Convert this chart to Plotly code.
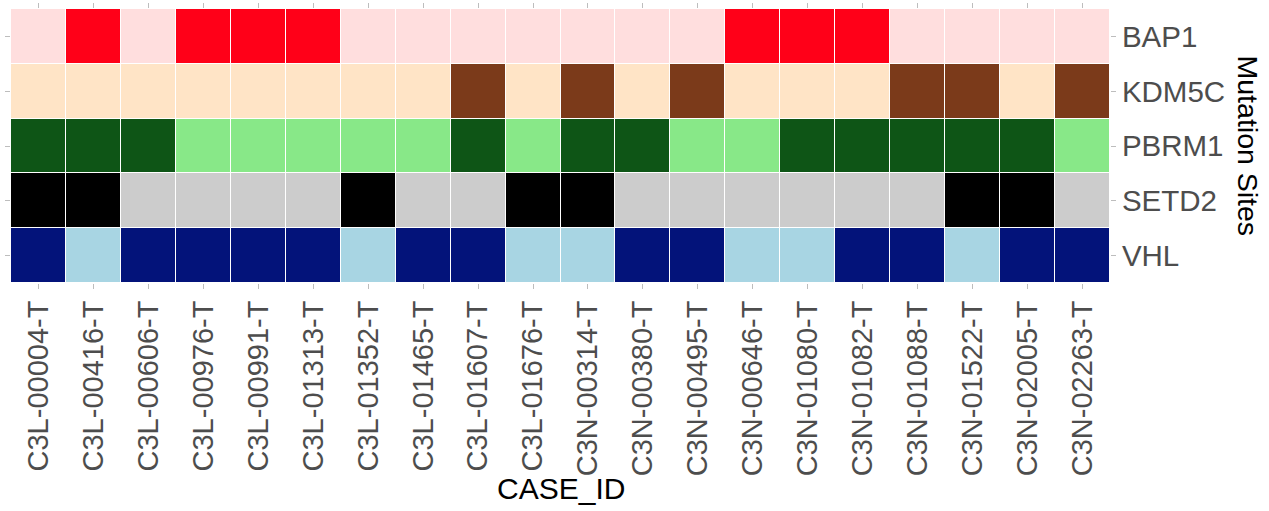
import plotly.graph_objects as go

case_ids = [
    "C3L-00004-T", "C3L-00416-T", "C3L-00606-T", "C3L-00976-T", "C3L-00991-T",
    "C3L-01313-T", "C3L-01352-T", "C3L-01465-T", "C3L-01607-T", "C3L-01676-T",
    "C3N-00314-T", "C3N-00380-T", "C3N-00495-T", "C3N-00646-T", "C3N-01080-T",
    "C3N-01082-T", "C3N-01088-T", "C3N-01522-T", "C3N-02005-T", "C3N-02263-T",
]
genes = ["BAP1", "KDM5C", "PBRM1", "SETD2", "VHL"]

# 1 = mutated, 0 = wild type
bap1 = [0, 1, 0, 1, 1, 1, 0, 0, 0, 0, 0, 0, 0, 1, 1, 1, 0, 0, 0, 0]
kdm5c = [0, 0, 0, 0, 0, 0, 0, 0, 1, 0, 1, 0, 1, 0, 0, 0, 1, 1, 0, 1]
pbrm1 = [1, 1, 1, 0, 0, 0, 0, 0, 1, 0, 1, 1, 0, 0, 1, 1, 1, 1, 1, 0]
setd2 = [1, 1, 0, 0, 0, 0, 1, 0, 0, 1, 1, 0, 0, 0, 0, 0, 0, 1, 1, 0]
vhl = [1, 0, 1, 1, 1, 1, 0, 1, 1, 0, 0, 1, 1, 0, 0, 1, 1, 0, 1, 1]

# (wild type, mutated) colour per gene
gene_colors = {
    "BAP1": ("#FFDEDE", "#FF0018"),
    "KDM5C": ("#FFE4C6", "#7B3A1A"),
    "PBRM1": ("#88E888", "#0E5516"),
    "SETD2": ("#CCCCCC", "#000000"),
    "VHL": ("#A8D5E3", "#03137A"),
}

status = [bap1, kdm5c, pbrm1, setd2, vhl]
z = [[2 * i + v for v in row] for i, row in enumerate(status)]

n = 2 * len(genes)
colorscale = []
for i, g in enumerate(genes):
    for j, c in enumerate(gene_colors[g]):
        k = 2 * i + j
        colorscale.append([k / n, c])
        colorscale.append([(k + 1) / n, c])

fig = go.Figure(go.Heatmap(
    z=z,
    x=case_ids,
    y=genes,
    colorscale=colorscale,
    zmin=-0.5,
    zmax=n - 0.5,
    showscale=False,
    xgap=1,
    ygap=1,
    hovertemplate="%{x}<br>%{y}<extra></extra>",
))

font_family = "Liberation Sans, Arial, sans-serif"

fig.update_xaxes(
    tickangle=-90,
    ticks="outside",
    ticklen=5,
    tickcolor="#BDBDBD",
    mirror="ticks",
    showline=False,
    showgrid=False,
    tickfont=dict(family=font_family, size=29, color="#4D4D4D"),
)
fig.update_yaxes(
    side="right",
    autorange="reversed",
    ticks="outside",
    ticklen=5,
    tickcolor="#BDBDBD",
    mirror="ticks",
    showline=False,
    showgrid=False,
    tickfont=dict(family=font_family, size=29.5, color="#4D4D4D"),
)

fig.add_annotation(
    text="CASE_ID", xref="paper", yref="paper",
    x=0.5, y=-0.75, xanchor="center", yanchor="middle",
    showarrow=False, font=dict(family=font_family, size=30, color="#000000"),
)
fig.add_annotation(
    text="Mutation Sites", xref="paper", yref="paper",
    x=1.126, y=0.5, xanchor="center", yanchor="middle", textangle=90,
    showarrow=False, font=dict(family=font_family, size=28.5, color="#000000"),
)

fig.update_layout(
    width=1269,
    height=511,
    margin=dict(l=11, r=159, t=9, b=228),
    paper_bgcolor="white",
    plot_bgcolor="white",
)

fig.write_html("out.html")
